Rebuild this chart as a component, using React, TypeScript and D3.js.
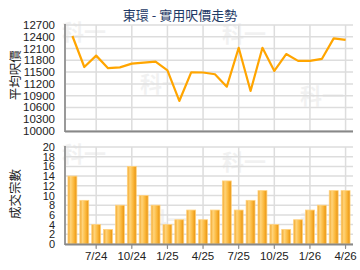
import React from 'react'
import * as d3 from 'd3'

const months = [
    '5/24', '6/24', '7/24', '8/24', '9/24', '10/24', '11/24', '12/24',
    '1/25', '2/25', '3/25', '4/25', '5/25', '6/25', '7/25', '8/25',
    '9/25', '10/25', '11/25', '12/25', '1/26', '2/26', '3/26', '4/26',
]
const prices = [
    12420, 11630, 11920, 11600, 11620, 11715, 11740, 11765, 11545, 10765, 11495, 11490,
    11445, 11130, 12120, 11020, 12120, 11530, 11960, 11785, 11785, 11835, 12360, 12320,
]
const volumes = [14, 9, 4, 3, 8, 16, 10, 8, 4, 5, 7, 5, 7, 13, 7, 9, 11, 4, 3, 5, 7, 8, 11, 11]
const priceTicks = [10000, 10300, 10600, 10900, 11200, 11500, 11800, 12100, 12400, 12700]
const volumeTicks = [0, 2, 4, 6, 8, 10, 12, 14, 16, 18, 20]
const tickMonths = ['7/24', '10/24', '1/25', '4/25', '7/25', '10/25', '1/26', '4/26']

const W = 360
const H = 270
const left = 65
const right = 353
const font = 'Arial, "Liberation Sans", sans-serif'
const cjk = '"Noto Sans CJK TC", sans-serif'

export default function App() {
    const x = d3.scaleBand().domain(months).range([left, right]).padding(0.25)
    const cx = (m: string) => (x(m) as number) + x.bandwidth() / 2

    const yP = d3.scaleLinear().domain([10000, 12700]).range([131, 25])
    const yV = d3.scaleLinear().domain([0, 20]).range([244, 147])

    const line = d3
        .line<number>()
        .x((d, i) => cx(months[i]))
        .y((d) => yP(d))

    const marks = [
        [62, 40], [140, 92], [222, 42], [300, 104],
        [62, 162], [145, 228], [222, 170], [300, 230],
    ]

    return (
        <svg width={W} height={H} style={{ position: 'absolute', left: 0, top: 0, background: '#fff' }}>
            <defs>
                <linearGradient id="bar" x1="0" x2="1" y1="0" y2="0">
                    <stop offset="0" stopColor="#F2A529" />
                    <stop offset="0.3" stopColor="#FFD47A" />
                    <stop offset="0.65" stopColor="#FBB83C" />
                    <stop offset="1" stopColor="#E8920E" />
                </linearGradient>
            </defs>

            <text x={180} y={20} textAnchor="middle" fontFamily={cjk} fontSize={13} fill="#1E3A66">
                東環 - 實用呎價走勢
            </text>

            {marks.map(([mx, my], i) => (
                <text key={i} x={mx} y={my} fontFamily={cjk} fontSize={22} fontWeight="bold" fill="#000" opacity={0.05}>
                    科一
                </text>
            ))}

            {/* price chart */}
            {priceTicks.map((t) => (
                <g key={t}>
                    <line x1={left} x2={right} y1={yP(t)} y2={yP(t)} stroke="#DDDDDD" strokeWidth={1.5} />
                    <text x={55} y={yP(t) + 4} textAnchor="end" fontFamily={font} fontSize={11.5} fill="#222">
                        {t}
                    </text>
                </g>
            ))}
            {tickMonths.map((m) => (
                <line key={m} x1={cx(m)} x2={cx(m)} y1={25} y2={131} stroke="#DDDDDD" strokeWidth={1.5} />
            ))}
            <line x1={left} x2={left} y1={24} y2={132} stroke="#999" strokeWidth={2} />
            <line x1={left} x2={right} y1={131.5} y2={131.5} stroke="#888" strokeWidth={2} />
            <path d={line(prices) || ''} fill="none" stroke="#FFA500" strokeWidth={2.2} strokeLinejoin="round" />
            <text
                transform={`translate(14,${yP(11420)}) rotate(-90)`}
                textAnchor="middle"
                dominantBaseline="central"
                fontFamily={cjk}
                fontSize={12.5}
                fill="#222"
            >
                平均呎價
            </text>

            {/* volume chart */}
            {volumeTicks.map((t) => (
                <g key={t}>
                    <line x1={left} x2={right} y1={yV(t)} y2={yV(t)} stroke="#DDDDDD" strokeWidth={1.5} />
                    <text x={55} y={yV(t) + 4} textAnchor="end" fontFamily={font} fontSize={11} fill="#222">
                        {t}
                    </text>
                </g>
            ))}
            {tickMonths.map((m) => (
                <g key={m}>
                    <line x1={cx(m)} x2={cx(m)} y1={147} y2={248} stroke="#DDDDDD" strokeWidth={1.5} />
                    <line x1={cx(m)} x2={cx(m)} y1={244} y2={249} stroke="#888" strokeWidth={1} />
                    <text x={cx(m)} y={260} textAnchor="middle" fontFamily={font} fontSize={11.5} fill="#222">
                        {m}
                    </text>
                </g>
            ))}
            {volumes.map((v, i) => (
                <rect
                    key={i}
                    x={x(months[i])}
                    y={yV(v)}
                    width={x.bandwidth()}
                    height={yV(0) - yV(v)}
                    fill="url(#bar)"
                    stroke="#FFD27F"
                    strokeWidth={0.8}
                />
            ))}
            <line x1={left} x2={left} y1={146} y2={245} stroke="#999" strokeWidth={2} />
            <line x1={left} x2={right} y1={244.5} y2={244.5} stroke="#888" strokeWidth={2} />
            <text
                transform={`translate(14,${yV(10.3)}) rotate(-90)`}
                textAnchor="middle"
                dominantBaseline="central"
                fontFamily={cjk}
                fontSize={12.5}
                fill="#222"
            >
                成交宗數
            </text>
        </svg>
    )
}
